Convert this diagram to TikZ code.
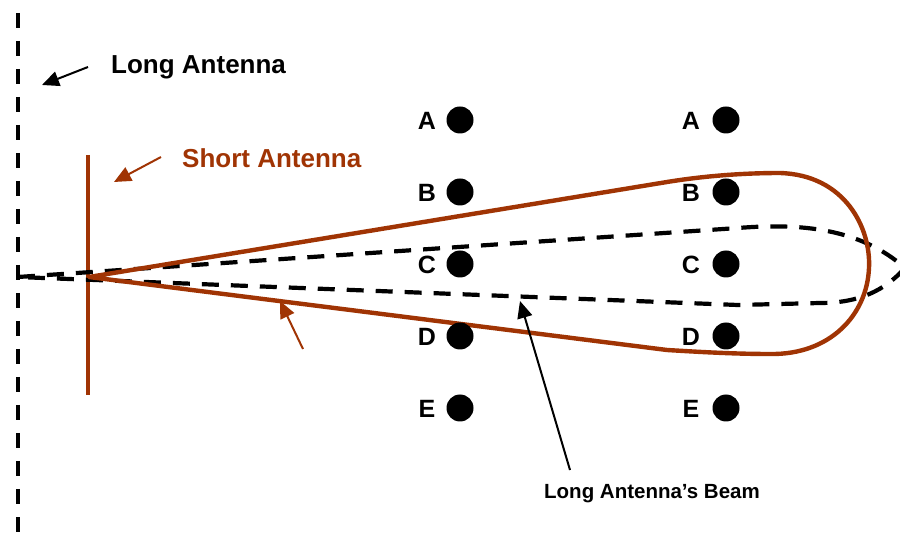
\documentclass[tikz,border=0pt]{standalone}
\usepackage{fontspec}
\setmainfont{Liberation Sans}
\usetikzlibrary{arrows.meta}
\definecolor{rust}{RGB}{160,52,4}
\begin{document}
\begin{tikzpicture}[x=1pt,y=-1pt,
  biglbl/.style={font=\fontsize{26}{30}\selectfont\bfseries, inner sep=0pt},
  smalllbl/.style={font=\fontsize{20.5}{24}\selectfont\bfseries, inner sep=0pt},
  letter/.style={font=\fontsize{25}{28}\selectfont\bfseries, inner sep=0pt, anchor=base},
  dot/.style={circle, fill=black, minimum size=27pt, inner sep=0pt},
  longdash/.style={line width=4.2pt, dash pattern=on 17pt off 12pt},
  pointer/.style={line width=2pt, -{Triangle[length=17pt,width=15pt]}},
  rustline/.style={rust, line width=4.4pt}
]
\useasboundingbox (0,0) rectangle (900,534);

% long antenna (dashed vertical element)
\coordinate (lt) at (18,13);
\coordinate (lb) at (18,540);
\draw[longdash, dash pattern=on 15pt off 13pt] (lt) -- (lb);

% short antenna
\coordinate (st) at (88,155);
\coordinate (sb) at (88,395);
\draw[rust, line width=3.8pt] (st) -- (sb);

% long antenna's beam (dashed lobe)
\coordinate (feed) at (18,277);
\draw[longdash, line join=round]
  (feed) -- (738,228) .. controls (800,223) and (860,228) .. (905,268)
  .. controls (885,290) and (860,303) .. (820,303) -- (738,305) -- cycle;

% short antenna's beam (solid lobe)
\coordinate (apex) at (89,277);
\draw[rustline, line join=round]
  (apex) -- (667,182) .. controls (710,175) and (750,173) .. (780,173)
  .. controls (845,175) and (871,228) .. (869,268)
  .. controls (867,315) and (830,355) .. (770,354)
  .. controls (735,354) and (700,352) .. (667,350) -- cycle;

% receivers
\foreach \col/\lx/\dx in {l/427/460, r/691/726}{
  \foreach \name/\y in {A/120, B/192, C/264, D/336, E/408}{
    \node[dot] (dot\col\name) at (\dx,\y) {};
    \node[letter] (let\col\name) at (\lx,\y+10) {\name};
  }
}

% labels
\node[biglbl, anchor=base west] (longlbl) at (111,74) {Long Antenna};
\node[biglbl, anchor=base west, text=rust] (shortlbl) at (182,168) {Short Antenna};
\node[smalllbl, anchor=base] (beamlbl) at (652,499) {Long Antenna’s Beam};

% pointers
\coordinate (p1s) at (88,67);  \coordinate (p1e) at (42,85);
\draw[pointer] (p1s) -- (p1e);
\coordinate (p2s) at (161,157); \coordinate (p2e) at (114,182);
\draw[pointer, rust] (p2s) -- (p2e);
\coordinate (p3s) at (303,349); \coordinate (p3e) at (280,301);
\draw[pointer, rust] (p3s) -- (p3e);
\coordinate (p4s) at (570,470); \coordinate (p4e) at (520,301);
\draw[pointer] (p4s) -- (p4e);
\end{tikzpicture}
\end{document}
